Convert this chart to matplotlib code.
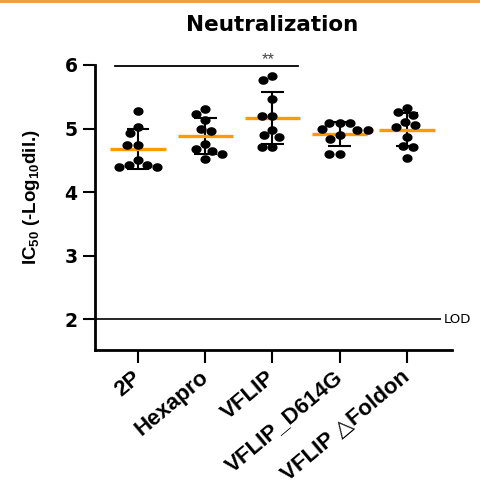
import numpy as np
import matplotlib.pyplot as plt
from matplotlib.patches import Rectangle
from matplotlib.path import Path
from matplotlib.transforms import ScaledTranslation

# ---- data ----
groups = ['2P', 'Hexapro', 'VFLIP', 'VFLIP_D614G', 'VFLIP \u25b3Foldon']
ic50_2p = [5.28, 5.02, 4.93, 4.74, 4.74, 4.50, 4.39, 4.42, 4.42, 4.39]
ic50_hexapro = [5.31, 5.23, 5.13, 5.00, 4.96, 4.75, 4.67, 4.64, 4.60, 4.52]
ic50_vflip = [5.82, 5.76, 5.47, 5.20, 5.20, 4.97, 4.89, 4.86, 4.71, 4.71]
ic50_d614g = [5.09, 5.09, 5.09, 4.98, 4.97, 4.99, 4.89, 4.83, 4.60, 4.60]
ic50_foldon = [5.33, 5.26, 5.21, 5.11, 5.05, 5.03, 4.86, 4.73, 4.71, 4.53]
all_groups = [ic50_2p, ic50_hexapro, ic50_vflip, ic50_d614g, ic50_foldon]
lod = 2.0
sig_pair = ('2P', 'VFLIP')
sig_label = '**'
y_ticks = [2, 3, 4, 5, 6]

black = '#000000'
orange = '#FF9A00'
stretch = 1.18  # the source picture is a bit wider than tall

plt.rcParams['font.family'] = ['Liberation Sans', 'DejaVu Sans']
plt.rcParams['mathtext.fontset'] = 'custom'
plt.rcParams['mathtext.rm'] = 'Liberation Sans:bold'
plt.rcParams['mathtext.it'] = 'Liberation Sans:bold'
plt.rcParams['mathtext.bf'] = 'Liberation Sans:bold'

# slightly flattened dot, like the source
t = np.linspace(0, 2 * np.pi, 60)
dot = Path(np.column_stack([stretch * np.cos(t), np.sin(t)]), closed=True)


def swarm(vals_px, d, k):
    """simple beeswarm: offsets (px) closest to centre that don't overlap"""
    placed = []
    out = [0.0] * len(vals_px)
    for i in np.argsort(-np.asarray(vals_px)):
        y = vals_px[i]
        cands = [0.0]
        for px, py in placed:
            dy = abs(y - py)
            if dy < d:
                dx = k * np.sqrt(d * d - dy * dy)
                cands += [px - dx, px + dx]
        cands.sort(key=lambda c: (abs(c), c))
        pick = cands[-1]
        for c in cands:
            if all(((c - px) / k) ** 2 + (y - py) ** 2 >= d * d - 1e-6
                   for px, py in placed):
                pick = c
                break
        placed.append((pick, y))
        out[i] = pick
    return out


W, H = 480, 487
fig = plt.figure(figsize=(W / 100, H / 100), dpi=100)
ax = fig.add_axes([95 / W, 1 - 350 / H, (452 - 95) / W, (350 - 65) / H])
ax.set_xlim(-0.64, 4.67)
ax.set_ylim(1.512, 6.0)

# orange strip at the very top
fig.add_artist(Rectangle((0, 1 - 2.5 / H), 1, 2.5 / H, transform=fig.transFigure,
                         color='#F0A040', lw=0))

# pixel scale for the swarm
x0, y0 = ax.transData.transform((0, 0))
x1, y1 = ax.transData.transform((1, 1))
sx, sy = x1 - x0, y1 - y0

xs = np.arange(len(groups))
for i, vals in enumerate(all_groups):
    vals = np.asarray(vals)
    m = vals.mean()
    sd = vals.std(ddof=1)
    # error bar (mean +/- SD)
    ax.vlines(i, m - sd, m + sd, color=black, lw=1.5, zorder=2)
    ax.hlines([m - sd, m + sd], i - 0.17, i + 0.17, color=black, lw=1.5, zorder=2)
    # mean
    ax.hlines(m, i - 0.41, i + 0.41, color=orange, lw=2.4, zorder=2.5)
    offs = np.array(swarm(vals * sy, 9.0, stretch)) / sx
    ax.plot(i + offs, vals, marker=dot, ls='none', ms=7.3, color=black,
            mec=black, mew=0, zorder=3)

# limit of detection
ax.hlines(lod, -0.64, 4.51, color=black, lw=1.2, zorder=1)
ax.text(4.55, lod, 'LOD', ha='left', va='center', fontsize=9.5,
        family='DejaVu Sans', clip_on=False)

# significance bar
a, b = groups.index(sig_pair[0]), groups.index(sig_pair[1])
ax.plot([a - 0.34, b + 0.38], [5.985, 5.985], color=black, lw=1.3, clip_on=False)
ax.text(b - 0.07, 6.085, sig_label, ha='center', va='center', fontsize=12,
        color='#444444', clip_on=False)

# axes styling
for s in ['top', 'right']:
    ax.spines[s].set_visible(False)
for s in ['left', 'bottom']:
    ax.spines[s].set_linewidth(2)
ax.set_yticks(y_ticks)
ax.set_yticklabels([str(t) for t in y_ticks], fontsize=13.5, fontweight='bold',
                   family='DejaVu Sans')
ax.set_xticks(xs)
ax.set_xticklabels(groups, fontsize=16, fontweight='bold', rotation=40,
                   ha='right', va='baseline', rotation_mode='anchor')
ax.tick_params(axis='both', length=9, width=1.5, pad=3.5)
ax.tick_params(axis='x', pad=12)
nudge = ScaledTranslation(4 / 100, 0, fig.dpi_scale_trans)
for lab in ax.get_xticklabels():
    lab.set_transform(lab.get_transform() + nudge)
ax.set_ylabel('IC$_{50}$ (-Log$_{10}$dil.)', fontsize=13.5, fontweight='bold')
ax.yaxis.set_label_coords(-0.148, 0.537)

fig.text(0.567, 1 - 25 / H, 'Neutralization', ha='center', va='center',
         fontsize=15.5, fontweight='bold', family='DejaVu Sans')

fig.savefig('out.png', dpi=100)
